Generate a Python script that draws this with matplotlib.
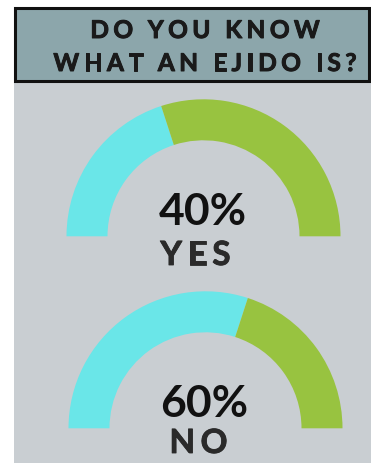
import matplotlib
matplotlib.use("Agg")
import matplotlib.pyplot as plt
import matplotlib.patheffects as pe
from matplotlib.patches import Rectangle

# Survey answers
title_lines = ["DO YOU KNOW", "WHAT AN EJIDO IS?"]
answers = ["YES", "NO"]
shares = [40, 60]          # percent of respondents for each answer
gauge_colors = ["#6ae6e8", "#98c340"]

W, H = 371, 464
fig = plt.figure(figsize=(W / 100, H / 100), dpi=100)
fig.patch.set_facecolor("white")
ax = fig.add_axes([0, 0, 1, 1])
ax.set_xlim(0, W)
ax.set_ylim(0, H)
ax.axis("off")

FONT = "Lato"


def spaced_text(ax, s, x, y, tracking, **kw):
    """Draw s centred at x with extra spacing (px) between letters."""
    renderer = fig.canvas.get_renderer()

    def width(t):
        tt = ax.text(0, 0, t, **kw)
        w = tt.get_window_extent(renderer).width
        tt.remove()
        return w

    base = width("HH")
    adv = [width("H" + c + "H") - base for c in s]
    total = sum(adv) + tracking * (len(s) - 1)
    cx = x - total / 2
    for c, a in zip(s, adv):
        ax.text(cx + a / 2, y, c, ha="center", **kw)
        cx += a + tracking


# backgrounds
ax.add_patch(Rectangle((14, 0), W - 14, H - 84, facecolor="#c9ced2",
                       edgecolor="none", zorder=0))
ax.add_patch(Rectangle((15, H - 82), W - 17, 73, facecolor="#8ca6ab",
                       edgecolor="#111111", linewidth=2.2, zorder=1))

# title
title_y = [H - 39, H - 72]
title_fx = [pe.withStroke(linewidth=0.7, foreground="#1a1a1a")]
for line, ty in zip(title_lines, title_y):
    spaced_text(ax, line, 205, ty, 4.5, fontsize=17.6, fontweight="bold",
                family=FONT, color="#1a1a1a", va="baseline", zorder=3,
                path_effects=title_fx)

# gauges
centers = [(203.5, H - 237.3), (205.5, H - 429.3)]
R_OUT, RING = 137, 41
pct_base = [H - 225, H - 416.7]
lab_base = [H - 266, H - 454]
label_fx = [pe.withStroke(linewidth=0.6, foreground="#2a2a2a")]
for share, label, (cx, cy), pb, lb in zip(shares, answers, centers,
                                         pct_base, lab_base):
    wedges, _ = ax.pie([share, 100 - share, 100], center=(cx, cy),
                       radius=R_OUT, startangle=180, counterclock=False,
                       colors=gauge_colors + ["none"],
                       wedgeprops=dict(width=RING, linewidth=0),
                       frame=True)
    ax.text(cx - 1, pb, f"{share}%", ha="center", va="baseline",
            fontsize=32, fontweight="bold", family=FONT, color="#111111")
    spaced_text(ax, label, cx - 8 if label == "YES" else cx - 7, lb, 5.5,
                fontsize=24, fontweight="bold", family=FONT,
                color="#2a2a2a", va="baseline", path_effects=label_fx)

ax.set_xlim(0, W)
ax.set_ylim(0, H)
ax.set_aspect("auto")
ax.axis("off")

fig.savefig("out.png", dpi=100, facecolor=fig.get_facecolor())
